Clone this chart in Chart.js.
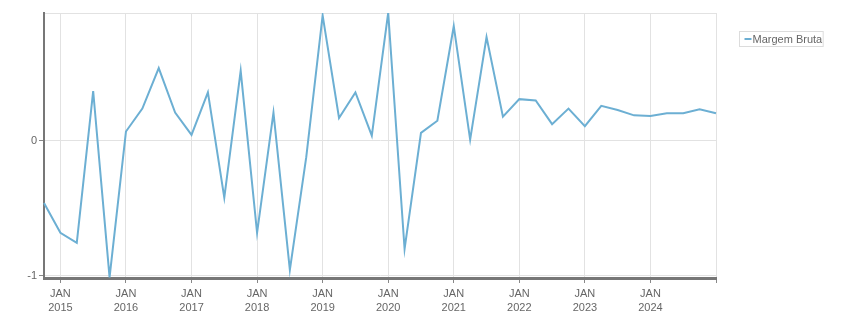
<!DOCTYPE html>
<html>
<head>
<meta charset="utf-8">
<script src="https://cdn.jsdelivr.net/npm/chart.js@4/dist/chart.umd.min.js"></script>
<style>
  html, body { margin: 0; padding: 0; background: #fff; }
  #wrap { width: 851px; height: 313px; position: relative; }
</style>
</head>
<body>
<div id="wrap"><canvas id="chart"></canvas></div>
<script>
// quarterly points, Oct 2014 .. Jan 2025
const quarters = [
  '2014-10',
  '2015-01', '2015-04', '2015-07', '2015-10',
  '2016-01', '2016-04', '2016-07', '2016-10',
  '2017-01', '2017-04', '2017-07', '2017-10',
  '2018-01', '2018-04', '2018-07', '2018-10',
  '2019-01', '2019-04', '2019-07', '2019-10',
  '2020-01', '2020-04', '2020-07', '2020-10',
  '2021-01', '2021-04', '2021-07', '2021-10',
  '2022-01', '2022-04', '2022-07', '2022-10',
  '2023-01', '2023-04', '2023-07', '2023-10',
  '2024-01', '2024-04', '2024-07', '2024-10',
  '2025-01'
];

const margemBruta = [
  -0.46,
  -0.68, -0.755, 0.37, -1.01,
  0.07, 0.24, 0.54, 0.21,
  0.045, 0.36, -0.42, 0.52,
  -0.68, 0.21, -0.955, -0.12,
  0.93, 0.17, 0.36, 0.04,
  0.95, -0.80, 0.06, 0.15,
  0.85, 0.01, 0.77, 0.18,
  0.31, 0.30, 0.125, 0.24,
  0.11, 0.26, 0.23, 0.19,
  0.185, 0.205, 0.205, 0.235,
  0.205
];

const yTicks = [-1, 0];
const monthLabel = 'JAN';
const lastLabeledYear = '2024';

const lineColor = '#6cafd3';
const textColor = '#666';
const gridColor = '#e2e2e2';
const fontFamily = "'Liberation Sans', Arial, sans-serif";

const isJan = (i) => quarters[i] && quarters[i].endsWith('-01');

// bordered legend box at the top right
const boxLegend = {
  id: 'boxLegend',
  afterDraw(chart) {
    const ctx = chart.ctx;
    const ds = chart.data.datasets[0];
    ctx.save();
    ctx.font = '11px ' + fontFamily;
    const w = ctx.measureText(ds.label).width;
    const x = 739.5, y = 31.5, h = 15;
    ctx.strokeStyle = '#dcdcdc';
    ctx.lineWidth = 1;
    ctx.strokeRect(x, y, w + 14, h);
    ctx.strokeStyle = ds.borderColor;
    ctx.lineWidth = 2;
    ctx.beginPath();
    ctx.moveTo(x + 5, y + 7.5);
    ctx.lineTo(x + 12, y + 7.5);
    ctx.stroke();
    ctx.fillStyle = textColor;
    ctx.textBaseline = 'middle';
    ctx.fillText(ds.label, x + 13, y + 8);
    ctx.restore();
  }
};

new Chart(document.getElementById('chart'), {
  type: 'line',
  data: {
    labels: quarters,
    datasets: [{
      label: 'Margem Bruta',
      data: margemBruta,
      borderColor: lineColor,
      backgroundColor: lineColor,
      borderWidth: 2,
      pointRadius: 0,
      tension: 0
    }]
  },
  options: {
    responsive: true,
    maintainAspectRatio: false,
    animation: false,
    layout: { padding: { left: 0, top: 13, right: 135, bottom: 0 } },
    plugins: {
      legend: { display: false },
      tooltip: { enabled: false }
    },
    scales: {
      x: {
        type: 'category',
        offset: false,
        border: { color: '#777', width: 3 },
        grid: {
          color: (c) => isJan(c.index) ? gridColor : 'rgba(0,0,0,0)',
          tickColor: (c) => isJan(c.index) ? '#888' : 'rgba(0,0,0,0)',
          tickLength: 5
        },
        ticks: {
          autoSkip: false,
          maxRotation: 0,
          padding: 4,
          color: textColor,
          font: { family: fontFamily, size: 11, lineHeight: 1.25 },
          callback: function (v, i) {
            const q = quarters[i];
            if (!isJan(i)) return '';
            const year = q.slice(0, 4);
            if (year > lastLabeledYear) return '';
            return [monthLabel, year];
          }
        },
        afterFit: (s) => { s.height = 35; }
      },
      y: {
        min: -1.015,
        max: 0.948,
        border: { color: '#777', width: 2 },
        grid: {
          color: gridColor,
          tickColor: (c) => c.tick && yTicks.includes(c.tick.value) ? '#888' : 'rgba(0,0,0,0)',
          tickLength: 5
        },
        afterBuildTicks: (s) => {
          s.ticks = yTicks.map((v) => ({ value: v })).concat([{ value: 0.948 }]);
        },
        ticks: {
          padding: 2,
          color: textColor,
          font: { family: fontFamily, size: 11 },
          callback: (v) => yTicks.includes(v) ? String(v) : ''
        },
        afterFit: (s) => { s.width = 44; }
      }
    }
  },
  plugins: [boxLegend]
});
</script>
</body>
</html>
